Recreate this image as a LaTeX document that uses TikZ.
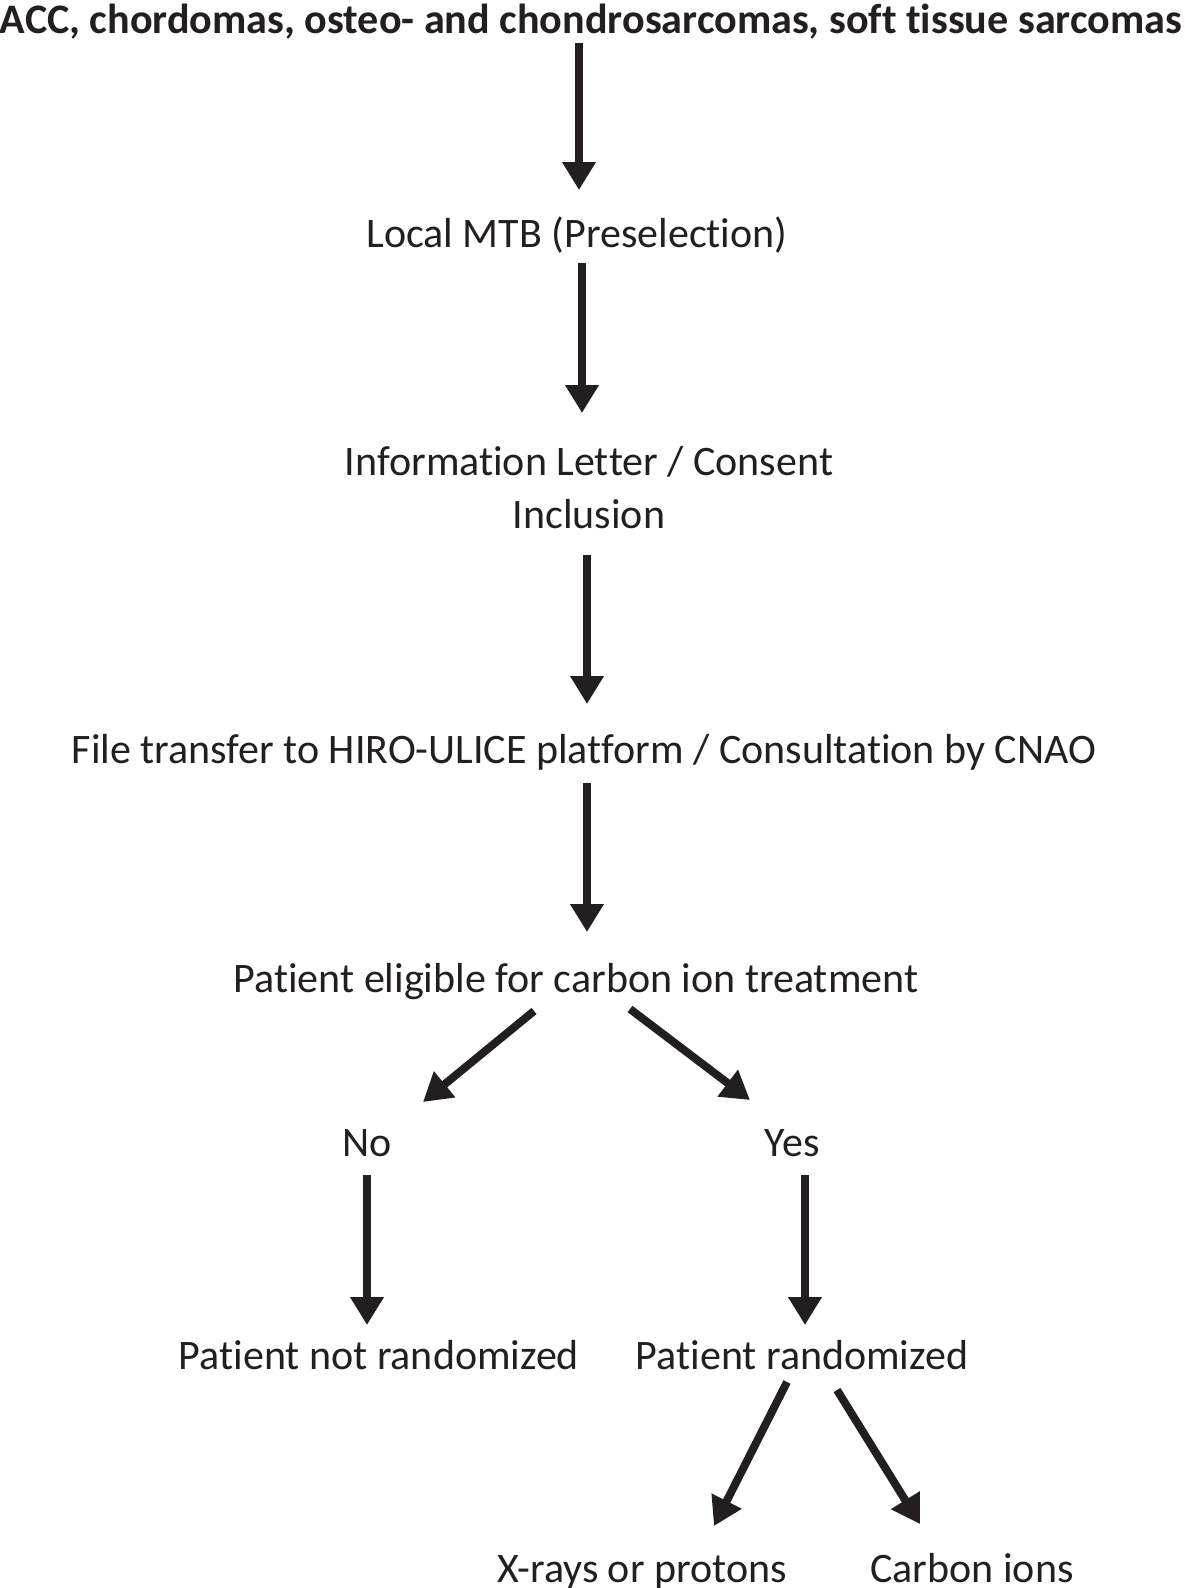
\documentclass[tikz,border=0pt]{standalone}
\usepackage{fontspec}
\setmainfont{Carlito}[Ligatures={NoCommon,NoRequired,NoContextual},Contextuals=NoAlternate]
\usepackage{graphicx}
\usetikzlibrary{arrows.meta,calc}
\definecolor{ink}{HTML}{231F20}
\newcommand\nlg{\kern0pt{}}
\tikzset{
  lbl/.style={anchor=base,inner sep=0pt,outer sep=0pt,text height=30pt,text depth=9pt,text=ink,font=\fontsize{42}{53}\selectfont},
  arr/.style={draw=ink,line width=8pt,-{Triangle[length=28pt,width=32pt]}}
}
\begin{document}
\begin{tikzpicture}[x=1pt,y=-1pt]
\useasboundingbox[fill=white] (0,0) rectangle (1184,1588);
\node[lbl] (title) at (591,33) {\resizebox{1182pt}{\height}{\bfseries ACC, chordomas, osteo- and chondrosarcomas, sof\nlg t t\nlg issue sarcomas}};
\node[lbl] (mtb) at (577,247) {Local MTB (Preselect\nlg ion)};
\node[lbl] (info1) at (589,475) {Informat\nlg ion Let\nlg ter / Consent};
\node[lbl] (info2) at (589,528) {Inclusion};
\node[lbl] (file) at (584,763) {File transfer to HIRO-ULICE plat\nlg form / Consultat\nlg ion by CNAO};
\node[lbl] (elig) at (576,992) {Pat\nlg ient eligible for carbon ion treatment};
\node[lbl] (no) at (367,1156) {No};
\node[lbl] (yes) at (792,1156) {Yes};
\node[lbl] (notr) at (379,1369) {Pat\nlg ient not randomized};
\node[lbl] (rand) at (802,1369) {Pat\nlg ient randomized};
\node[lbl] (xr) at (642,1582) {X-rays or protons};
\node[lbl] (carb) at (972,1582) {Carbon ions};

\draw[arr] ($(title.south)+(-12,1)$) -- ($(mtb.north)+(2,-27)$);
\draw[arr] ($(mtb.south)+(5,7)$) -- ($(info1.north)+(-7,-32)$);
\draw[arr] ($(info2.south)+(-2,18)$) -- ($(file.north)+(3,-29)$);
\draw[arr] ($(file.south)+(3,11)$) -- ($(elig.north)+(11,-30)$);
\draw[arr] ($(elig.south)+(-42,10)$) -- ($(no.north)+(56,-24)$);
\draw[arr] ($(elig.south)+(54,8)$) -- ($(yes.north)+(-42,-26)$);
\draw[arr] ($(no.south)+(0,10)$) -- ($(notr.north)+(-12,-14)$);
\draw[arr] ($(yes.south)+(13,10)$) -- ($(rand.north)+(3,-14)$);
\draw[arr] ($(rand.south)+(-15,4)$) -- ($(xr.north)+(72,-26)$);
\draw[arr] ($(rand.south)+(35,12)$) -- ($(carb.north)+(-52,-28)$);
\end{tikzpicture}
\end{document}
